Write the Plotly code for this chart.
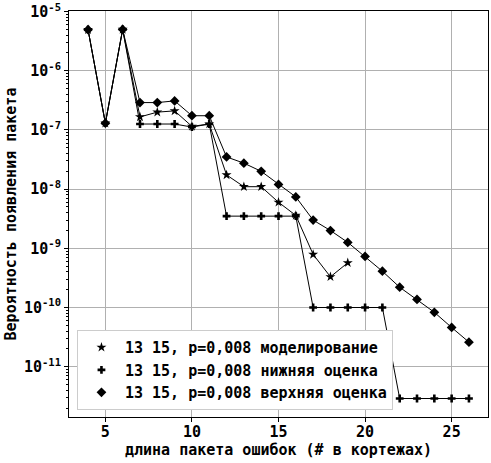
import plotly.graph_objects as go

x_sim = [4, 5, 6, 7, 8, 9, 10, 11, 12, 13, 14, 15, 16, 17, 18, 19]
y_sim = [4.95e-6, 1.3e-7, 5.0e-6, 1.66e-7, 2.0e-7, 2.1e-7, 1.15e-7, 1.26e-7,
         1.74e-8, 1.1e-8, 1.1e-8, 6.0e-9, 3.6e-9, 7.9e-10, 3.3e-10, 5.7e-10]

x_low = list(range(4, 27))
y_low = [4.95e-6, 1.3e-7, 5.0e-6, 1.26e-7, 1.26e-7, 1.26e-7, 1.12e-7, 1.26e-7,
         3.5e-9, 3.5e-9, 3.5e-9, 3.5e-9, 3.5e-9, 1.0e-10, 1.0e-10, 1.0e-10,
         1.0e-10, 1.0e-10, 2.9e-12, 2.9e-12, 2.9e-12, 2.9e-12, 2.9e-12]

x_up = list(range(4, 27))
y_up = [4.95e-6, 1.3e-7, 5.0e-6, 2.9e-7, 2.9e-7, 3.1e-7, 1.74e-7, 1.74e-7,
        3.5e-8, 2.75e-8, 2.0e-8, 1.2e-8, 7.4e-9, 3.0e-9, 2.0e-9, 1.26e-9,
        7.3e-10, 4.1e-10, 2.2e-10, 1.37e-10, 8.3e-11, 4.6e-11, 2.6e-11]

names = ["13 15, p=0,008 моделирование",
         "13 15, p=0,008 нижняя оценка",
         "13 15, p=0,008 верхняя оценка"]

x_ticks = [5, 10, 15, 20, 25]
y_exps = [-5, -6, -7, -8, -9, -10, -11]

FONT = "DejaVu Sans Mono"
FS = 15

series = [(x_sim, y_sim, "star", 7.5), (x_low, y_low, "cross", 6.5), (x_up, y_up, "diamond", 7.5)]

fig = go.Figure()
for (xs, ys, sym, sz), nm in zip(series, names):
    fig.add_trace(go.Scatter(x=xs, y=ys, mode="lines+markers", name=nm, showlegend=False,
                             line=dict(color="black", width=1),
                             marker=dict(symbol=sym, size=sz, color="black")))
for (xs, ys, sym, sz), nm in zip(series, names):
    fig.add_trace(go.Scatter(x=[None], y=[None], mode="markers", name="<b>" + nm + "</b>",
                             marker=dict(symbol=sym, size=sz, color="black")))

fig.update_layout(
    width=491, height=463,
    margin=dict(l=69, r=3, t=11, b=46),
    paper_bgcolor="white", plot_bgcolor="white",
    font=dict(family=FONT, size=FS, color="black"),
    showlegend=True,
    legend=dict(x=0.019, y=0.017, xanchor="left", yanchor="bottom",
                bgcolor="white", bordercolor="#cccccc", borderwidth=1,
                font=dict(family=FONT, size=FS, color="black"),
                tracegroupgap=0, itemwidth=37),
)
fig.update_xaxes(
    range=[2.9, 27.1], tickvals=x_ticks, ticktext=["<b>%d</b>" % v for v in x_ticks],
    showgrid=True, gridcolor="#b0b0b0", gridwidth=1,
    showline=True, linecolor="black", linewidth=1, mirror=True,
    ticks="outside", ticklen=4, tickcolor="black", ticklabelstandoff=-3,
    tickfont=dict(family=FONT, size=FS),
    title=dict(text="<b>длина пакета ошибок (# в кортежах)</b>", standoff=0,
               font=dict(family=FONT, size=FS)),
    zeroline=False, automargin=False,
)
fig.update_yaxes(
    type="log", range=[-11.85, -4.99],
    tickvals=[10.0 ** e for e in y_exps],
    ticktext=["<b>10<sup>%d</sup></b>" % e for e in y_exps],
    showgrid=True, gridcolor="#b0b0b0", gridwidth=1,
    showline=True, linecolor="black", linewidth=1, mirror=True,
    ticks="outside", ticklen=4, tickcolor="black",
    minor=dict(ticks="outside", ticklen=2, tickcolor="black", dtick="D1", showgrid=False),
    tickfont=dict(family=FONT, size=FS),
    title=dict(text="<b>Вероятность появления пакета</b>", standoff=3,
               font=dict(family=FONT, size=FS)),
    zeroline=False, automargin=False,
)

fig.write_html("out.html")
